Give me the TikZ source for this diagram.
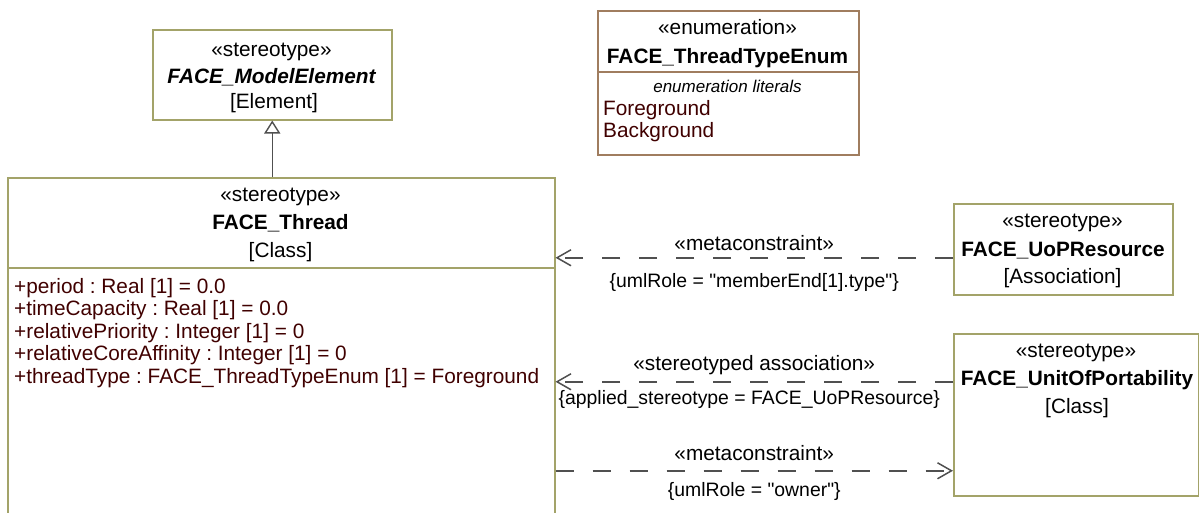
\documentclass[tikz,border=0pt]{standalone}
\usepackage{fontspec}
\newfontfamily\umlfont{Liberation Sans}
\usetikzlibrary{arrows.meta}
\frenchspacing

\definecolor{umlolive}{RGB}{163,163,105}
\definecolor{umlbrown}{RGB}{160,125,95}
\definecolor{attrtext}{RGB}{64,0,0}
\definecolor{linkgray}{RGB}{80,80,80}

\begin{document}
\begin{tikzpicture}[x=1pt,y=-1pt,>={Straight Barb[length=14pt,width=16pt]},
  umlbox/.style={draw=umlolive,line width=1.5pt,inner sep=0pt,anchor=north west},
  enumbox/.style={umlbox,draw=umlbrown},
  txt/.style={anchor=base,inner sep=0pt,font=\umlfont\fontsize{20.8}{24}\selectfont},
  attr/.style={txt,anchor=base west,text=attrtext},
  lbl/.style={txt,midway},
  cons/.style={lbl,font=\umlfont\fontsize{19.4}{24}\selectfont},
  dep/.style={draw=linkgray,line width=1.5pt,dash pattern=on 18.5pt off 18.5pt},
  gen/.style={draw=linkgray,line width=1.4pt,-{Triangle[open,length=13pt,width=16pt]}}]
  \useasboundingbox (0,0) rectangle (1199,512);
  \clip (0,0) rectangle (1199,512);
  % boxes
  \node[umlbox,minimum width=239pt,minimum height=90pt] (me) at (152,29) {};
  \node[enumbox,minimum width=261pt,minimum height=144pt] (enum) at (597,10) {};
  \node[umlbox,minimum width=547pt,minimum height=343pt] (thread) at (7,177) {};
  \node[umlbox,minimum width=219pt,minimum height=91pt] (uopres) at (953,203) {};
  \node[umlbox,minimum width=245pt,minimum height=162pt] (uop) at (953,333) {};
  \draw[umlbrown,line width=1.5pt] ([yshift=-62pt]enum.north west) -- ([yshift=-62pt]enum.north east);
  \draw[umlolive,line width=1.5pt] ([yshift=-91pt]thread.north west) -- ([yshift=-91pt]thread.north east);
  % FACE_ModelElement
  \node[txt] (me-st) at (271.5,56) {«stereotype»};
  \node[txt,font=\umlfont\fontsize{20.8}{24}\selectfont\bfseries\itshape] (me-name) at (271.5,83) {FACE\_ModelElement};
  \node[txt] (me-meta) at (274,108) {[Element]};
  % FACE_ThreadTypeEnum
  \node[txt] (enum-st) at (727.5,34) {«enumeration»};
  \node[txt,font=\umlfont\fontsize{20.8}{24}\selectfont\bfseries] (enum-name) at (727.5,63) {FACE\_ThreadTypeEnum};
  \node[txt,font=\umlfont\fontsize{17}{20}\selectfont\itshape] (enum-lit) at (727.5,92) {enumeration literals};
  \node[attr] (enum-fg) at (603,115) {Foreground};
  \node[attr] (enum-bg) at (603,137) {Background};
  % FACE_Thread
  \node[txt] (thr-st) at (280.5,201) {«stereotype»};
  \node[txt,font=\umlfont\fontsize{20.8}{24}\selectfont\bfseries] (thr-name) at (280.5,229) {FACE\_Thread};
  \node[txt] (thr-meta) at (280.5,257) {[Class]};
  \node[attr] (thr-a1) at (14,293) {+period : Real [1] = 0.0};
  \node[attr] (thr-a2) at (14,315.5) {+timeCapacity : Real [1] = 0.0};
  \node[attr] (thr-a3) at (14,338) {+relativePriority : Integer [1] = 0};
  \node[attr] (thr-a4) at (14,360.5) {+relativeCoreAffinity : Integer [1] = 0};
  \node[attr] (thr-a5) at (14,383) {+threadType : FACE\_ThreadTypeEnum [1] = Foreground};
  % FACE_UoPResource
  \node[txt] (res-st) at (1062.5,227) {«stereotype»};
  \node[txt,font=\umlfont\fontsize{20.8}{24}\selectfont\bfseries] (res-name) at (1063,256) {FACE\_UoPResource};
  \node[txt] (res-meta) at (1062.5,283) {[Association]};
  % FACE_UnitOfPortability
  \node[txt] (uop-st) at (1076,357) {«stereotype»};
  \node[txt,font=\umlfont\fontsize{20.8}{24}\selectfont\bfseries] (uop-name) at (1077,385) {FACE\_UnitOfPortability};
  \node[txt] (uop-meta) at (1077,413) {[Class]};
  % connectors
  \draw[gen] (me.south |- thread.north) -- (me.south);
  \draw[dep,->] ([yshift=-8.5pt]uopres.west) -- ([yshift=-8.5pt]uopres.west -| thread.east)
    node[lbl,yshift=7pt] (dep1-st) {«metaconstraint»}
    node[cons,yshift=-30pt] (dep1-c) {\{umlRole = "memberEnd[1].type"\}};
  \draw[dep,->] ([yshift=33pt]uop.west) -- ([yshift=33pt]uop.west -| thread.east)
    node[lbl,yshift=11pt] (dep2-st) {«stereotyped association»}
    node[cons,yshift=-23pt,xshift=-5pt] (dep2-c) {\{applied\_stereotype = FACE\_UoPResource\}};
  \draw[dep,->] ([yshift=-56pt]uop.west -| thread.east) -- ([yshift=-56pt]uop.west)
    node[lbl,yshift=10pt] (dep3-st) {«metaconstraint»}
    node[cons,yshift=-26pt] (dep3-c) {\{umlRole = "owner"\}};
\end{tikzpicture}
\end{document}
